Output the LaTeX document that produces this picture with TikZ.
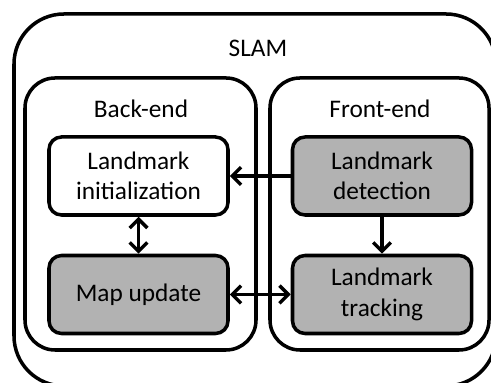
\documentclass[tikz,border=0pt]{standalone}
\usepackage{fontspec}
\setmainfont{Carlito}
\usepackage{tikz}
\usetikzlibrary{
    positioning,
    arrows.meta
}

\begin{document}
\begin{tikzpicture}[
  font=\fontsize{14.4}{17.4}\selectfont,
  arrow/.style={-{Straight Barb[length=5pt, width=10pt]}, line width=2pt, draw=black},
  twoway/.style={{Straight Barb[length=5pt, width=10pt]}-{Straight Barb[length=5pt, width=10pt]}, line width=2pt, draw=black},
  outer/.style={draw, line width=2pt, rounded corners=1.0cm, rectangle,
                minimum width=9.64cm, minimum height=7.44cm, inner sep=0pt},
  panel/.style={draw, line width=2pt, rounded corners=0.6cm, rectangle,
                minimum width=4.5cm, minimum height=5.44cm, inner sep=0pt},
  block/.style={draw, line width=2pt, fill=white, rounded corners=0.25cm, rectangle,
                minimum height=1.56cm, minimum width=3.58cm, align=center, inner sep=2pt},
  active/.style={block, fill=black!30}
]

% Page frame; the outer box runs past the bottom edge
\useasboundingbox (0,0) rectangle (9.82,7.66);
\clip (0,0) rectangle (9.82,7.66);

% Containers
\node[outer] (slam) at (5.10, 3.66) {};
\node[panel, minimum width=4.62cm] (backend) at (2.81, 3.38) {};
\node[panel, minimum width=4.38cm] (frontend) at (7.59, 3.38) {};

% Container titles
\node (slamlab) at (5.16, 6.70) {SLAM};
\node (backlab) at (2.82, 5.48) {Back-end};
\node (frontlab) at (7.60, 5.48) {Front-end};

% Back-end blocks
\node[block] (init) at (2.77, 4.14) {Landmark\\initialization};
\node[active] (mapupd) at (2.77, 1.77) {Map update};

% Front-end blocks
\node[active] (detect) at (7.64, 4.14) {Landmark\\detection};
\node[active] (track) at (7.64, 1.77) {Landmark\\tracking};

% Connections
\draw[arrow] (detect.west) to (init.east);
\draw[twoway] (init.south) to (mapupd.north);
\draw[arrow] (detect.south) to (track.north);
\draw[twoway] (mapupd.east) to (track.west);

\end{tikzpicture}
\end{document}
